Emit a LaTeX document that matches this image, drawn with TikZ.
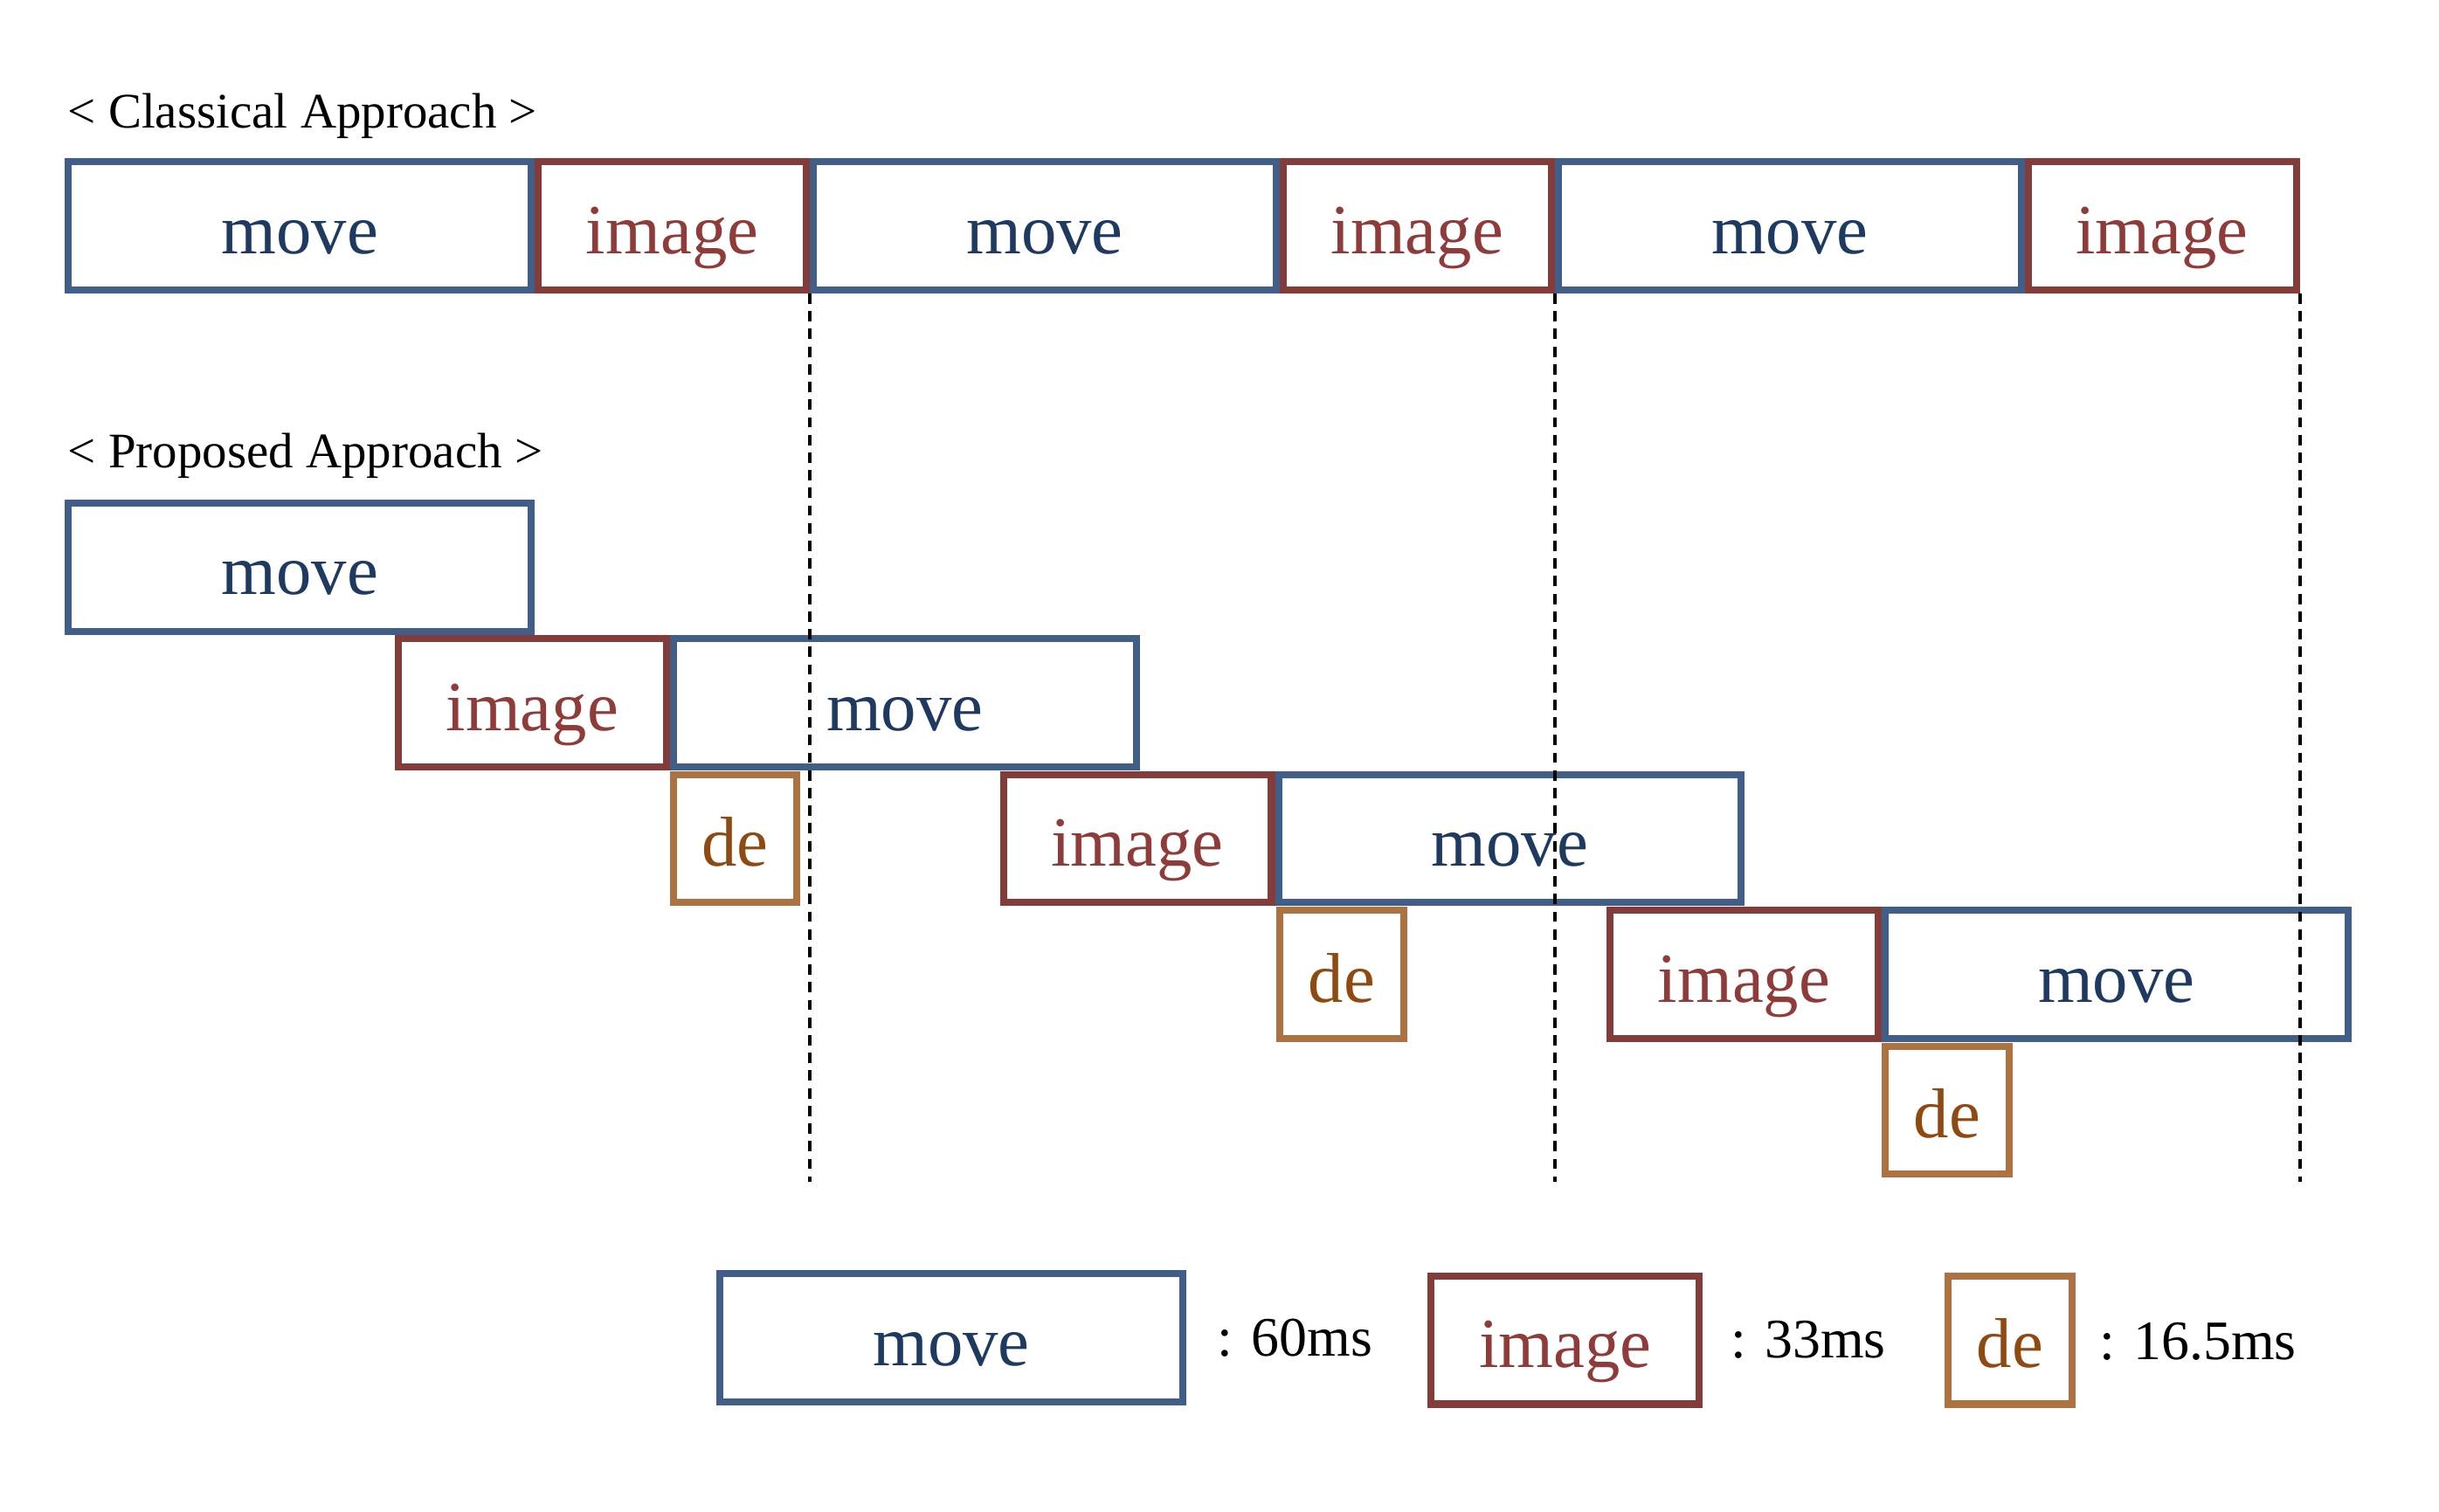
\documentclass[tikz,border=0pt]{standalone}
\usepackage{xcolor}
\usepackage{tikz}
\usepackage{fontspec}
\setmainfont{Liberation Serif}
\definecolor{moveline}{HTML}{405E87}
\definecolor{movetext}{HTML}{1F3A60}
\definecolor{imageline}{HTML}{843C3A}
\definecolor{imagetext}{HTML}{8E3B3A}
\definecolor{deline}{HTML}{AD7240}
\definecolor{detext}{HTML}{8F4A12}

\begin{document}
\begin{tikzpicture}[
        box/.style={rectangle,draw,line width=1.28pt,inner sep=0pt,outer sep=0pt,anchor=west,
                    text height=0.59cm,text depth=0.235cm,
                    font=\fontsize{12.9}{15}\selectfont},
        movebox/.style={box,draw=moveline,text=movetext,minimum width=2.975cm},
        imagebox/.style={box,draw=imageline,text=imagetext,minimum width=1.724cm},
        debox/.style={box,draw=deline,text=detext,minimum width=0.795cm},
        head/.style={anchor=base west,inner sep=0pt,font=\fontsize{9.1}{11}\selectfont},
        keytext/.style={anchor=base west,inner sep=0pt,font=\fontsize{10.2}{12}\selectfont},
        timeline/.style={draw=black,line width=0.64pt,dash pattern=on 1.9pt off 1.33pt}]
      \useasboundingbox (0,0) rectangle (15.68,-9.72);
      \node[head] (hc) at(0.43,-0.82){< Classical Approach >};
      \node[movebox]  (cm1) at(0.440,-1.452){move};
      \node[imagebox] (ci1) at(3.460,-1.452){image};
      \node[movebox]  (cm2) at(5.229,-1.452){move};
      \node[imagebox] (ci2) at(8.249,-1.452){image};
      \node[movebox]  (cm3) at(10.018,-1.452){move};
      \node[imagebox] (ci3) at(13.038,-1.452){image};

      \node[head] (hp) at(0.43,-3.01){< Proposed Approach >};
      \node[movebox]  (pm1) at(0.440,-3.645){move};
      \node[imagebox] (pi2) at(2.560,-4.518){image};
      \node[movebox]  (pm2) at(4.329,-4.518){move};
      \node[debox]    (pd3) at(4.329,-5.391){de};
      \node[imagebox] (pi3) at(6.450,-5.391){image};
      \node[movebox]  (pm3) at(8.219,-5.391){move};
      \node[debox]    (pd4) at(8.229,-6.265){de};
      \node[imagebox] (pi4) at(10.350,-6.265){image};
      \node[movebox]  (pm4) at(12.119,-6.265){move};
      \node[debox]    (pd5) at(12.119,-7.138){de};

      \coordinate (bot) at(0,-7.60);
      \draw[timeline] ([shift={(0.64pt,-0.64pt)}]ci1.south east) -- ([xshift=0.64pt]ci1.south east |- bot);
      \draw[timeline] ([shift={(0.64pt,-0.64pt)}]ci2.south east) -- ([xshift=0.64pt]ci2.south east |- bot);
      \draw[timeline] ([shift={(0.64pt,-0.64pt)}]ci3.south east) -- ([xshift=0.64pt]ci3.south east |- bot);

      \node[movebox]  (lm) at(4.628,-8.603){move};
      \node[keytext]  (lmt) at(7.82,-8.72){: 60ms};
      \node[imagebox] (li) at(9.200,-8.615){image};
      \node[keytext]  (lit) at(11.12,-8.73){: 33ms};
      \node[debox]    (ld) at(12.525,-8.615){de};
      \node[keytext]  (ldt) at(13.49,-8.74){: 16.5ms};
    \end{tikzpicture}
\end{document}
